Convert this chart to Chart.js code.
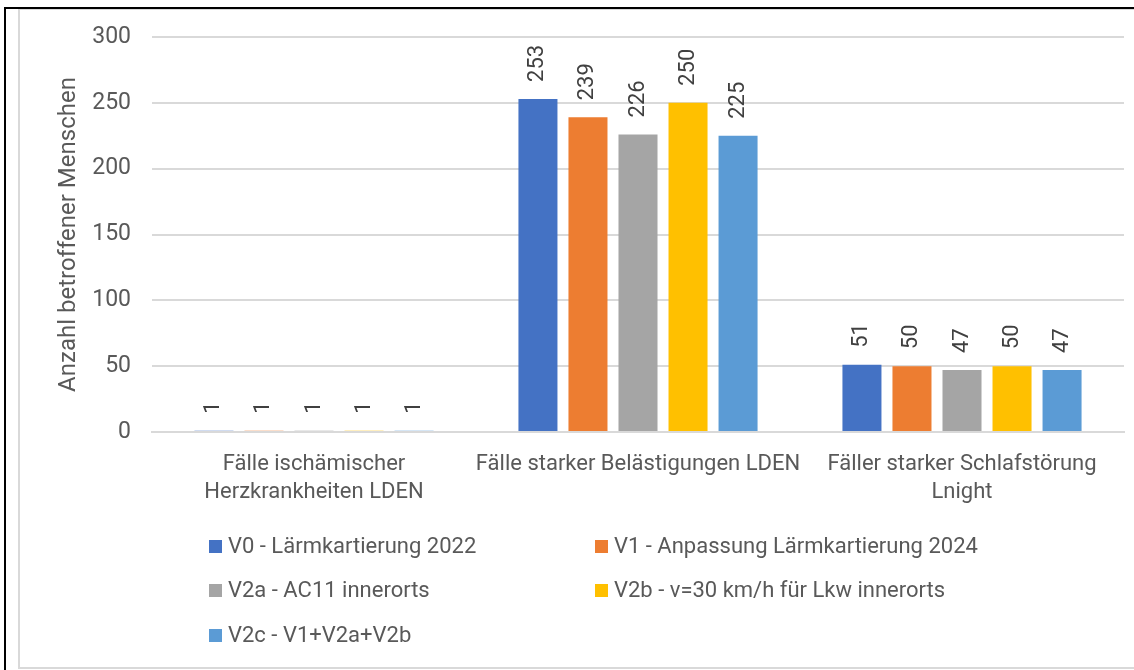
<!DOCTYPE html>
<html>
<head>
<meta charset="utf-8">
<script src="https://cdn.jsdelivr.net/npm/chart.js@4"></script>
<style>
  body { margin: 0; background: #fff; }
  #wrap { width: 1134px; height: 670px; }
</style>
</head>
<body>
<div id="wrap"><canvas id="myChart" width="1134" height="670"></canvas></div>
<script>
var categories = [
    ['Fälle ischämischer', 'Herzkrankheiten LDEN'],
    ['Fälle starker Belästigungen LDEN'],
    ['Fäller starker Schlafstörung', 'Lnight']
];
var seriesNames = [
    'V0 - Lärmkartierung 2022',
    'V1 - Anpassung Lärmkartierung 2024',
    'V2a - AC11 innerorts',
    'V2b - v=30 km/h für Lkw innerorts',
    'V2c - V1+V2a+V2b'
];
var v0 = [1, 253, 51];
var v1 = [1, 239, 50];
var v2a = [1, 226, 47];
var v2b = [1, 250, 50];
var v2c = [1, 225, 47];
var colors = ['#4472C4', '#ED7D31', '#A5A5A5', '#FFC000', '#5B9BD5'];

var textColor = '#595959';
var font = 'Roboto';

// frame: black lines top/left plus light grey chart border
var framePlugin = {
    id: 'frame',
    beforeDraw: function(chart) {
        var c = chart.ctx;
        c.save();
        c.fillStyle = '#fff';
        c.fillRect(0, 0, chart.width, chart.height);
        c.strokeStyle = '#d9d9d9';
        c.lineWidth = 2;
        c.strokeRect(19, 9, 1200, 659);
        c.fillStyle = '#000';
        c.fillRect(4, 7, chart.width, 2);
        c.fillRect(4, 7, 2, chart.height);
        c.restore();
    }
};

// rotated value labels above bars
var valueLabels = {
    id: 'valueLabels',
    afterDatasetsDraw: function(chart) {
        var c = chart.ctx;
        c.save();
        c.fillStyle = '#404040';
        c.font = '22px ' + font;
        c.textAlign = 'left';
        c.textBaseline = 'middle';
        chart.data.datasets.forEach(function(ds, i) {
            chart.getDatasetMeta(i).data.forEach(function(bar, j) {
                c.save();
                c.translate(bar.x, bar.y - 17);
                c.rotate(-Math.PI / 2);
                c.fillText(String(ds.data[j]), 0, 0);
                c.restore();
            });
        });
        c.restore();
    }
};

// two-column legend under the chart
var gridLegend = {
    id: 'gridLegend',
    afterDraw: function(chart) {
        var c = chart.ctx;
        var cols = [209, 595];
        var rows = [546, 590, 635];
        c.save();
        c.font = '22px ' + font;
        c.textBaseline = 'middle';
        c.textAlign = 'left';
        chart.data.datasets.forEach(function(ds, i) {
            var x = cols[i % 2];
            var y = rows[Math.floor(i / 2)];
            c.fillStyle = ds.backgroundColor;
            c.fillRect(x, y - 6, 13, 13);
            c.fillStyle = textColor;
            c.fillText(ds.label, x + 19, y + 1);
        });
        c.restore();
    }
};

var allData = [v0, v1, v2a, v2b, v2c];
var datasets = allData.map(function(d, i) {
    return {
        label: seriesNames[i],
        data: d,
        backgroundColor: colors[i],
        borderWidth: 0,
        categoryPercentage: 0.772,
        barPercentage: 0.78
    };
});

var ctx = document.getElementById('myChart').getContext('2d');
var myChart = new Chart(ctx, {
    type: 'bar',
    data: {
        labels: categories,
        datasets: datasets
    },
    plugins: [framePlugin, valueLabels, gridLegend],
    options: {
        responsive: false,
        animation: false,
        layout: { padding: { left: 55, right: 10, top: 37, bottom: 150 } },
        plugins: {
            legend: { display: false },
            tooltip: { enabled: false }
        },
        scales: {
            x: {
                grid: { display: false, drawTicks: false },
                border: { color: '#d9d9d9', width: 2 },
                ticks: {
                    color: textColor,
                    font: { family: font, size: 22, lineHeight: 1.27 },
                    padding: 19,
                    maxRotation: 0,
                    autoSkip: false
                },
                afterFit: function(s) { s.height = 88; }
            },
            y: {
                min: 0,
                max: 300,
                ticks: {
                    stepSize: 50,
                    color: textColor,
                    font: { family: font, size: 23 },
                    padding: 21
                },
                grid: { color: '#d9d9d9', lineWidth: 2, drawTicks: false },
                border: { display: false },
                title: {
                    display: true,
                    text: 'Anzahl betroffener Menschen',
                    color: textColor,
                    font: { family: font, size: 24 },
                    padding: 0
                },
                afterFit: function(s) { s.width = 97; }
            }
        }
    }
});
</script>
</body>
</html>
